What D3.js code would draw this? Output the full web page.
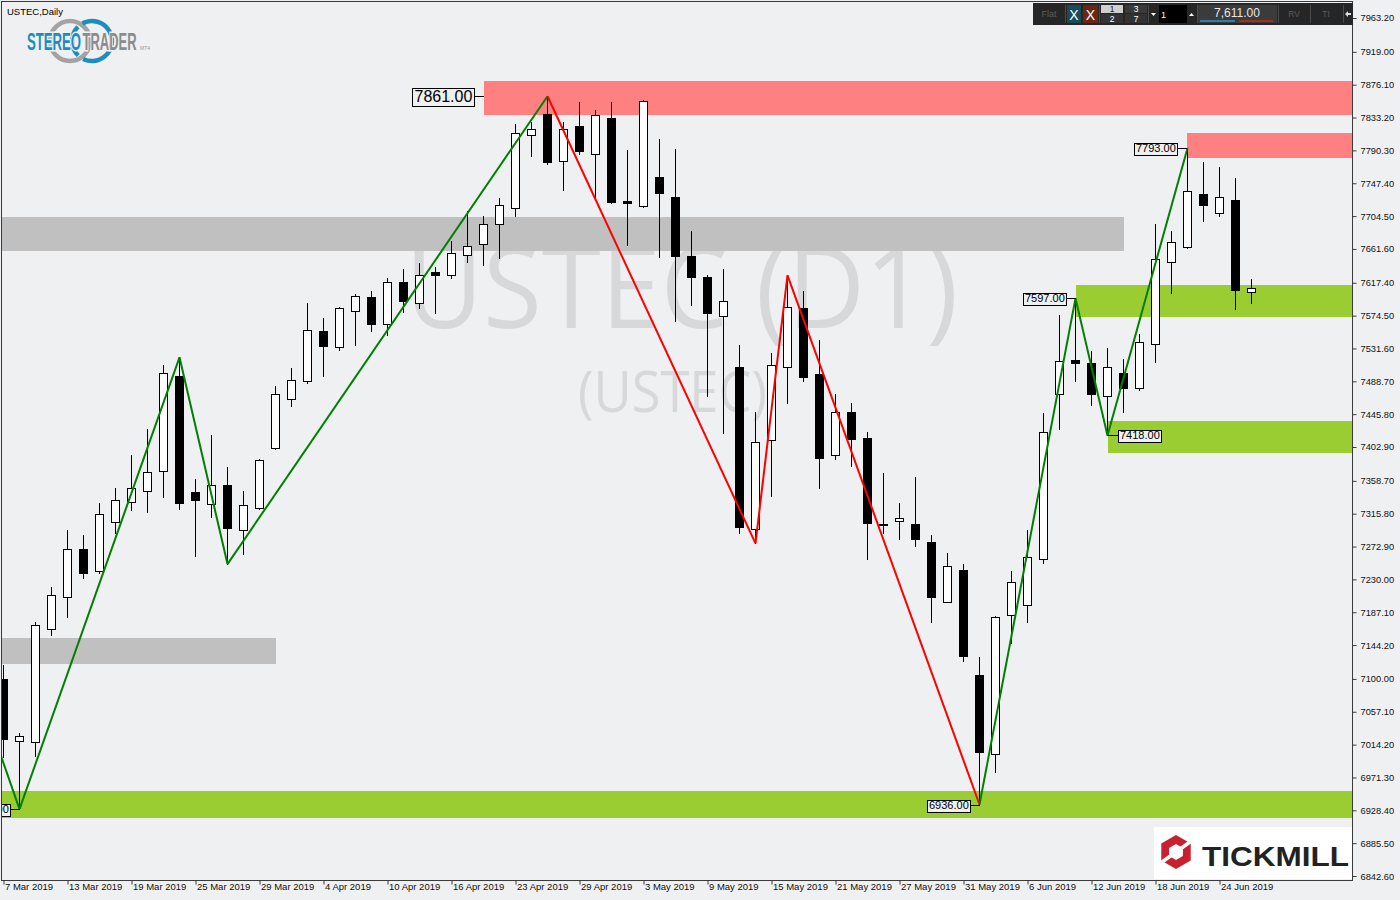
<!DOCTYPE html>
<html><head><meta charset="utf-8">
<script src="https://cdn.jsdelivr.net/npm/d3@7"></script>
<style>html,body{margin:0;padding:0;background:#eff0f2;} svg{display:block;}</style>
</head><body>
<svg id="c" width="1400" height="900"></svg>
<script>
// ---------------- DATA ----------------
const dates = [
"2019-03-07","2019-03-08","2019-03-11","2019-03-12","2019-03-13","2019-03-14","2019-03-15","2019-03-18","2019-03-19","2019-03-20",
"2019-03-21","2019-03-22","2019-03-25","2019-03-26","2019-03-27","2019-03-28","2019-03-29","2019-04-01","2019-04-02","2019-04-03",
"2019-04-04","2019-04-05","2019-04-08","2019-04-09","2019-04-10","2019-04-11","2019-04-12","2019-04-15","2019-04-16","2019-04-17",
"2019-04-18","2019-04-22","2019-04-23","2019-04-24","2019-04-25","2019-04-26","2019-04-29","2019-04-30","2019-05-01","2019-05-02",
"2019-05-03","2019-05-06","2019-05-07","2019-05-08","2019-05-09","2019-05-10","2019-05-13","2019-05-14","2019-05-15","2019-05-16",
"2019-05-17","2019-05-20","2019-05-21","2019-05-22","2019-05-23","2019-05-24","2019-05-27","2019-05-28","2019-05-29","2019-05-30",
"2019-05-31","2019-06-03","2019-06-04","2019-06-05","2019-06-06","2019-06-07","2019-06-10","2019-06-11","2019-06-12","2019-06-13",
"2019-06-14","2019-06-17","2019-06-18","2019-06-19","2019-06-20","2019-06-21","2019-06-24","2019-06-25","2019-06-26"];
const open = [7100,7019,7017,7165,7207,7270,7241,7305,7331,7345,7371,7495,7344,7329,7353,7294,7323,7402,7465,7489,
7554,7534,7581,7599,7564,7618,7591,7631,7627,7654,7668,7694,7715,7811,7838,7777,7822,7786,7833,7724,
7718,7755,7730,7652,7625,7574,7507,7296,7412,7508,7585,7498,7393,7448,7415,7303,7306,7302,7279,7201,
7242,7105,7002,7183,7196,7256,7472,7516,7513,7469,7500,7480,7538,7644,7664,7733,7708,7726,7606];
const high = [7118,7029,7175,7220,7294,7288,7330,7350,7392,7426,7510,7520,7361,7419,7377,7345,7387,7482,7506,7591,
7572,7586,7603,7607,7623,7635,7643,7638,7672,7711,7704,7728,7825,7828,7861,7828,7853,7843,7853,7791,
7856,7805,7792,7685,7628,7636,7536,7449,7526,7627,7607,7543,7472,7460,7422,7369,7330,7364,7288,7265,
7250,7128,7182,7241,7294,7447,7575,7597,7528,7532,7518,7550,7694,7685,7793,7775,7769,7754,7622];
const low = [6998,6930,6999,7157,7181,7232,7238,7291,7321,7318,7337,7322,7261,7312,7250,7263,7322,7400,7457,7487,
7495,7530,7536,7555,7549,7579,7585,7578,7624,7645,7640,7650,7705,7783,7773,7738,7785,7728,7721,7667,
7717,7651,7568,7589,7469,7421,7291,7277,7339,7460,7489,7349,7387,7378,7257,7290,7283,7273,7175,7200,
7123,6936,6978,7147,7175,7252,7427,7489,7458,7418,7448,7478,7514,7604,7663,7698,7704,7583,7591];
const close = [7022,7026,7170,7210,7270,7239,7315,7334,7349,7370,7500,7330,7334,7353,7297,7327,7386,7472,7490,7556,
7535,7584,7600,7564,7619,7594,7628,7628,7656,7665,7694,7719,7813,7818,7775,7818,7789,7836,7723,7722,
7855,7735,7653,7625,7578,7593,7298,7410,7510,7586,7494,7388,7448,7414,7304,7302,7310,7283,7207,7247,
7130,7004,7181,7227,7259,7422,7515,7513,7472,7507,7480,7540,7648,7670,7737,7719,7730,7608,7611];

const yTicks = [7963.2,7919.0,7876.1,7833.2,7790.3,7747.4,7704.5,7661.6,7617.4,7574.5,7531.6,7488.7,7445.8,7402.9,
7358.7,7315.8,7272.9,7230.0,7187.1,7144.2,7100.0,7057.1,7014.2,6971.3,6928.4,6885.5,6842.6];
const xTickIdx = [0,4,8,12,16,20,24,28,32,36,40,44,48,52,56,60,64,68,72,76];

// zones: start/end bar index, top/bottom price, kind
const zoneStart = [30, 74, -5, -5, 67, 69, -5];
const zoneEnd   = [90, 90, 70, 17, 90, 90, 90];
const zoneTop   = [7881, 7813, 7703, 7154, 7614.5, 7437, 6954];
const zoneBot   = [7837, 7781, 7659, 7120, 7573, 7395, 6919];
const zoneKind  = ["supply","supply","range","range","demand","demand","demand"];

// zigzag
const zigIdx = [-1, 1, 11, 14, 34, 47, 49, 61, 67, 69, 74];
const zigVal = [7050, 6930, 7520, 7250, 7861, 7277, 7627, 6936, 7597, 7418, 7793];
const zigSwing = ["bull","bull","bull","bull","bear","bear","bear","bull","bull","bull"];

// price labels
const labelIdx = [1, 30, 74, 67, 69, 61];
const labelVal = [6930, 7861, 7793, 7597, 7418, 6936];
const labelSide = ["left","left","left","left","right","left"];
const labelLevel = ["minor","major","minor","minor","minor","minor"];

const symbolText = "USTEC,Daily";
const watermark1 = "USTEC (D1)";
const watermark2 = "(USTEC)";
const lastPrice = "7,611.00";

// ---------------- DRAW ----------------
const svg = d3.select("#c");
const W = 1400, H = 900;
const L = 2, T = 2, R = 1352, B = 880;
const bg = "#eff0f2";
svg.append("rect").attr("width",W).attr("height",H).attr("fill",bg);

const x = d3.scaleLinear().domain([0, 78]).range([3.5, 1251.5]);
const y = d3.scaleLinear().domain([6837.4, 7984.1]).range([B, T]);
const parse = d3.timeParse("%Y-%m-%d");
const fmtDate = d3.timeFormat("%-d %b %Y");

svg.append("clipPath").attr("id","plot").append("rect")
  .attr("x",L).attr("y",T).attr("width",R-L).attr("height",B-T);
const plot = svg.append("g").attr("clip-path","url(#plot)");

// watermark
plot.append("text").attr("x",405).attr("y",328).text(watermark1)
  .attr("font-family","'Open Sans','Noto Sans',sans-serif").attr("font-size",114)
  .attr("textLength",553).attr("lengthAdjust","spacingAndGlyphs").attr("fill","#d6d8da");
plot.append("text").attr("x",578).attr("y",412).text(watermark2)
  .attr("font-family","'Open Sans','Noto Sans',sans-serif").attr("font-size",57)
  .attr("textLength",189).attr("lengthAdjust","spacingAndGlyphs").attr("fill","#d6d8da");

// zones
const zoneColor = {supply:"#ff8080", range:"#c0c0c0", demand:"#9acd32"};
zoneStart.forEach((s,k)=>{
  const x0 = Math.round(x(s)), x1 = Math.round(x(zoneEnd[k]));
  const y0 = Math.round(y(zoneTop[k])), y1 = Math.round(y(zoneBot[k]));
  plot.append("rect").attr("x",x0).attr("y",y0).attr("width",x1-x0).attr("height",y1-y0)
    .attr("fill",zoneColor[zoneKind[k]]);
});

// candles
const cg = plot.append("g");
dates.forEach((d,i)=>{
  const cx = x(i);
  const bull = close[i] >= open[i];
  cg.append("line").attr("x1",cx).attr("x2",cx)
    .attr("y1",Math.round(y(high[i]))).attr("y2",Math.round(y(low[i]))+1)
    .attr("stroke","#000").attr("stroke-width",1);
  const yt = Math.round(y(Math.max(open[i],close[i]))) + 0.5;
  const yb = Math.round(y(Math.min(open[i],close[i]))) + 0.5;
  cg.append("rect").attr("x",cx-4).attr("y",yt).attr("width",8).attr("height",Math.max(yb-yt,1))
    .attr("fill",bull?"#ffffff":"#000000").attr("stroke","#000").attr("stroke-width",1);
});

// zigzag
const swingColor = {bull:"#008000", bear:"#ff0000"};
zigSwing.forEach((s,k)=>{
  plot.append("line")
    .attr("x1",x(zigIdx[k])).attr("y1",y(zigVal[k]))
    .attr("x2",x(zigIdx[k+1])).attr("y2",y(zigVal[k+1]))
    .attr("stroke",swingColor[s]).attr("stroke-width",2);
});

// price labels
const lg = plot.append("g");
labelIdx.forEach((li,k)=>{
  const big = labelLevel[k]==="major";
  const fs = big?16:11, h = big?18:12, pad = big?2:1.5;
  const cx = Math.round(x(li)), cy = Math.round(y(labelVal[k]))+0.5;
  const txt = d3.format(".2f")(labelVal[k]);
  const t = lg.append("text").text(txt).attr("font-family","'Liberation Sans',Arial,sans-serif")
    .attr("font-size",fs).attr("fill","#000");
  const w = Math.round(t.node().getComputedTextLength() + 2*pad);
  const gap = 10;
  const bx = labelSide[k]==="left" ? cx - gap - w : cx + gap;
  lg.insert("line","text").attr("x1",cx).attr("x2",labelSide[k]==="left"?bx+w:bx)
    .attr("y1",cy).attr("y2",cy).attr("stroke","#000").attr("stroke-width",1);
  lg.insert("rect","text").attr("x",bx+0.5).attr("y",Math.round(cy-h/2)+0.5).attr("width",w).attr("height",h)
    .attr("fill",bg).attr("stroke","#000").attr("stroke-width",1);
  t.attr("x",bx+pad+0.5).attr("y",cy+fs*0.36);
});

// border
svg.append("rect").attr("x",L-0.5).attr("y",T-0.5).attr("width",R-L+1).attr("height",B-T+1)
  .attr("fill","none").attr("stroke","#3a3a3a").attr("stroke-width",1);

// y axis
const ya = svg.append("g").attr("transform",`translate(${R+0.5},0)`)
  .call(d3.axisRight(y).tickValues(yTicks).tickSize(4).tickPadding(4).tickFormat(d3.format(".2f")));
ya.select(".domain").remove();
ya.selectAll("line").attr("stroke","#3a3a3a");
ya.selectAll("text").attr("font-family","'Liberation Sans',Arial,sans-serif").attr("font-size",9.3).attr("fill","#111");

// x axis
const xa = svg.append("g").attr("transform",`translate(0,${B+0.5})`)
  .call(d3.axisBottom(x).tickValues(xTickIdx).tickSize(4).tickFormat(i=>fmtDate(parse(dates[i]))));
xa.select(".domain").remove();
xa.selectAll("line").attr("stroke","#3a3a3a");
xa.selectAll("text").attr("text-anchor","start").attr("dx",1).attr("y",3).attr("dy","0.71em")
  .attr("font-family","'Liberation Sans',Arial,sans-serif").attr("font-size",9.5).attr("fill","#111");

// symbol text
svg.append("text").attr("x",7).attr("y",14.5).text(symbolText)
  .attr("font-family","'Liberation Sans',Arial,sans-serif").attr("font-size",9.5).attr("fill","#000");

// StereoTrader logo
const lgo = svg.append("g");
lgo.append("circle").attr("cx",70).attr("cy",41).attr("r",20).attr("fill","none").attr("stroke","#a3a3a3").attr("stroke-width",4.5);
lgo.append("path").attr("d",d3.arc()({innerRadius:17.8,outerRadius:22.2,startAngle:-0.5,endAngle:3.6}))
  .attr("transform","translate(92,41)").attr("fill","#1e8cbf");
lgo.append("path").attr("d",d3.arc()({innerRadius:17.8,outerRadius:22.2,startAngle:3.9,endAngle:5.5}))
  .attr("transform","translate(92,41)").attr("fill","#1e8cbf");
lgo.append("text").attr("transform","translate(27,50) scale(1,1.78)").text("STEREO")
  .attr("font-family","'Liberation Sans',Arial,sans-serif").attr("font-weight","bold").attr("font-size",13)
  .attr("textLength",54).attr("lengthAdjust","spacingAndGlyphs").attr("fill","#1e8cbf")
  .attr("stroke",bg).attr("stroke-width",1.8).attr("paint-order","stroke");
lgo.append("text").attr("transform","translate(82.5,50) scale(1,1.78)").text("TRADER")
  .attr("font-family","'Liberation Sans',Arial,sans-serif").attr("font-weight","bold").attr("font-size",13)
  .attr("textLength",54).attr("lengthAdjust","spacingAndGlyphs").attr("fill","#8c8c8c")
  .attr("stroke",bg).attr("stroke-width",1.8).attr("paint-order","stroke");
lgo.append("text").attr("x",140).attr("y",50).text("MT4")
  .attr("font-family","'Liberation Sans',Arial,sans-serif").attr("font-size",5).attr("fill","#999");

// Tickmill logo
const tk = svg.append("g");
tk.append("rect").attr("x",1154).attr("y",827).attr("width",198).attr("height",52).attr("fill","#ffffff");
const hex = (r)=>d3.range(6).map(k=>{const a=Math.PI/3*k - Math.PI/2; return [1176+r*Math.cos(a), 852+r*Math.sin(a)];});
tk.append("path").attr("d","M"+hex(17).join("L")+"Z M"+hex(8).join("L")+"Z")
  .attr("fill","#c8202e").attr("fill-rule","evenodd");
tk.append("line").attr("x1",1162).attr("y1",862).attr("x2",1190).attr("y2",842)
  .attr("stroke","#fff").attr("stroke-width",3.5);
tk.append("text").attr("x",1202).attr("y",865.5).text("TICKMILL")
  .attr("font-family","'Liberation Sans',Arial,sans-serif").attr("font-weight","bold").attr("font-size",28)
  .attr("textLength",147).attr("lengthAdjust","spacingAndGlyphs").attr("fill","#222");

// toolbar
const tb = svg.append("g").attr("font-family","'Liberation Sans',Arial,sans-serif");
tb.append("rect").attr("x",1033).attr("y",3).attr("width",320).attr("height",22).attr("fill","#262626");
[1065,1099,1148,1197,1278,1310,1343].forEach(sx=>tb.append("line").attr("x1",sx+0.5).attr("x2",sx+0.5)
  .attr("y1",5).attr("y2",23).attr("stroke","#4a4a4a"));
tb.append("text").attr("x",1049).attr("y",17).attr("text-anchor","middle").text("Flat").attr("font-size",9).attr("fill","#5c5c5c");
tb.append("rect").attr("x",1067).attr("y",5).attr("width",14).attr("height",18).attr("fill","#1b4a58");
tb.append("text").attr("x",1074).attr("y",19.5).attr("text-anchor","middle").text("X").attr("font-size",14).attr("fill","#fff");
tb.append("rect").attr("x",1083).attr("y",5).attr("width",15).attr("height",18).attr("fill","#6a2812");
tb.append("text").attr("x",1090.5).attr("y",19.5).attr("text-anchor","middle").text("X").attr("font-size",14).attr("fill","#fff");
tb.append("rect").attr("x",1101).attr("y",5).attr("width",22).attr("height",8).attr("fill","#cfcfcf");
tb.append("rect").attr("x",1101).attr("y",14).attr("width",22).attr("height",9).attr("fill","#333");
tb.append("text").attr("x",1112).attr("y",12).attr("text-anchor","middle").text("1").attr("font-size",8.5).attr("fill","#222");
tb.append("text").attr("x",1112).attr("y",21.5).attr("text-anchor","middle").text("2").attr("font-size",8.5).attr("fill","#fff");
tb.append("rect").attr("x",1125).attr("y",5).attr("width",22).attr("height",8).attr("fill","#3a3a3a");
tb.append("rect").attr("x",1125).attr("y",14).attr("width",22).attr("height",9).attr("fill","#333");
tb.append("text").attr("x",1136).attr("y",12).attr("text-anchor","middle").text("3").attr("font-size",8.5).attr("fill","#fff");
tb.append("text").attr("x",1136).attr("y",21.5).attr("text-anchor","middle").text("7").attr("font-size",8.5).attr("fill","#fff");
tb.append("path").attr("d","M1151,13 L1156,13 L1153.5,16 Z").attr("fill","#fff");
tb.append("rect").attr("x",1159).attr("y",5).attr("width",28).attr("height",18).attr("fill","#000");
tb.append("text").attr("x",1161).attr("y",18).text("1").attr("font-size",9).attr("fill","#fff8c8");
tb.append("path").attr("d","M1189,16 L1194,16 L1191.5,13 Z").attr("fill","#fff");
tb.append("rect").attr("x",1198).attr("y",5).attr("width",79).attr("height",18).attr("fill","#3b3b3b");
tb.append("text").attr("x",1237).attr("y",17).attr("text-anchor","middle").text(lastPrice).attr("font-size",12).attr("fill","#e6e6e6");
tb.append("line").attr("x1",1200).attr("x2",1235).attr("y1",21).attr("y2",21).attr("stroke","#2a7fb0").attr("stroke-width",2);
tb.append("line").attr("x1",1239).attr("x2",1273).attr("y1",21).attr("y2",21).attr("stroke","#a0301a").attr("stroke-width",2);
tb.append("text").attr("x",1294).attr("y",17).attr("text-anchor","middle").text("RV").attr("font-size",8.5).attr("fill","#5c5c5c");
tb.append("text").attr("x",1326).attr("y",17).attr("text-anchor","middle").text("TI").attr("font-size",8.5).attr("fill","#5c5c5c");
tb.append("path").attr("d","M1345,14 L1348,11 L1348,13 L1351,13 L1351,15 L1348,15 L1348,17 Z").attr("fill","#ddd");
</script>
</body></html>
